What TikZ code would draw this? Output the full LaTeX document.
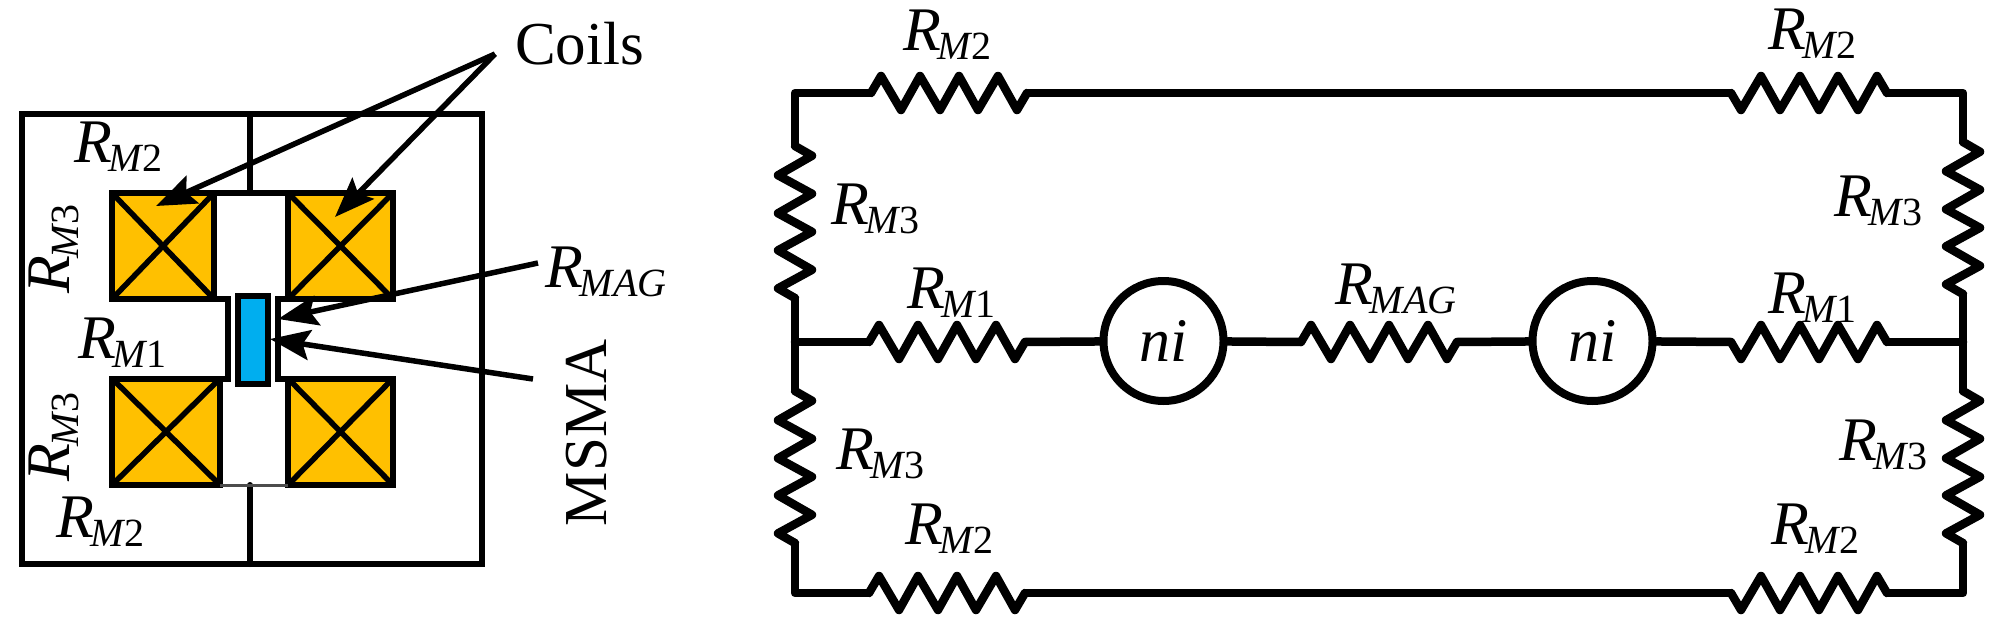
\documentclass[tikz,border=0pt]{standalone}
\usepackage{fontspec}
\setmainfont{Liberation Serif}
\usetikzlibrary{arrows.meta}
\definecolor{coilgold}{HTML}{FFC000}
\definecolor{msmablue}{HTML}{00AEEF}
\newcommand\Rs[2]{\fontsize{62}{64}\selectfont\itshape R\kern-3pt\raisebox{-9pt}{\fontsize{40}{42}\selectfont\itshape #1\upshape #2}}
\tikzset{
  wire/.style={line width=8.5pt,line cap=round,line join=round},
  frameline/.style={line width=6pt,line cap=round,line join=miter},
  coil/.style={fill=coilgold,draw=black,line width=6pt,line join=miter},
  crossline/.style={line width=5.5pt},
  lead/.style={line width=5.5pt,-{Stealth[length=40pt,width=30pt,inset=7pt]}},
  lab/.style={inner sep=0pt,outer sep=0pt,anchor=base west},
  plain/.style={inner sep=0pt,outer sep=0pt,anchor=base west,font=\fontsize{61}{62}\selectfont},
  source/.style={circle,draw=black,line width=8pt,minimum size=120pt,inner sep=0pt,font=\fontsize{62}{64}\selectfont\itshape},
  pics/zig/.style={code={
    \draw[wire] (0,0)--(10,-17)--(30,17)--(49,-17)--(69,17)--(88,-17)--(107,17)--(127,-17)--(146,17)--(156,0);
  }}
}
\begin{document}
\begin{tikzpicture}[x=1pt,y=-1pt]
\useasboundingbox (0,0) rectangle (2000,626);
% --- left: cut-away ---
\draw[frameline] (21.5,114) rectangle (482,564);
\draw[frameline] (250,114) -- (250,193);
\draw[frameline] (250,485) -- (250,564);
\draw[coil] (112,193) rectangle (214,299);
\draw[coil] (288,193) rectangle (393,299);
\draw[coil] (112,378.5) rectangle (220,485);
\draw[coil] (288,378.5) rectangle (393,485);
\draw[crossline] (112,193) -- (214,299) (112,299) -- (214,193);
\draw[crossline] (288,193) -- (393,299) (288,299) -- (393,193);
\draw[crossline] (112,378.5) -- (220,485) (112,485) -- (220,378.5);
\draw[crossline] (288,378.5) -- (393,485) (288,485) -- (393,378.5);
\draw[frameline] (214,193) -- (288,193);
\draw[black!70,line width=3pt] (220,485) -- (288,485);
\draw[frameline,line cap=butt] (214,299) -- (228,299) -- (228,378.5) -- (220,378.5);
\draw[frameline,line cap=butt] (288,299) -- (278,299) -- (278,378.5) -- (288,378.5);
\draw[fill=msmablue,draw=black,line width=5.5pt] (238,296) rectangle (268,384);
\coordinate (apex) at (495,54);
\coordinate (coilA) at (156,206);
\coordinate (coilB) at (335,217);
\coordinate (magS) at (538,263);
\coordinate (magE) at (278,319);
\coordinate (msmaS) at (533,379);
\coordinate (msmaE) at (270,339);
\draw[lead] (apex) -- (coilA);
\draw[lead] (apex) -- (coilB);
\draw[lead] (magS) -- (magE);
\draw[lead] (msmaS) -- (msmaE);
\node[plain] (tcoils) at (515,64) {Coils};
\node[plain,rotate=90] (tmsma) at (606,526) {MSMA};
\node[lab] (l1) at (74,162) {\Rs{M}{2}};
\node[lab] (l2) at (78,358) {\Rs{M}{1}};
\node[lab] (l3) at (56,537) {\Rs{M}{2}};
\node[lab,rotate=90] (l4) at (69,293) {\Rs{M}{3}};
\node[lab,rotate=90] (l5) at (69,481) {\Rs{M}{3}};
\node[lab] (l6) at (545,287) {\Rs{MAG}{}};
% --- right: circuit ---
\coordinate (TL) at (795,93);
\coordinate (TR) at (1963,93);
\coordinate (ML) at (795,342);
\coordinate (MR) at (1963,342);
\coordinate (BL) at (795,593);
\coordinate (BR) at (1963,593);
\coordinate (a1) at (871,93);   \coordinate (a2) at (1027,93);
\coordinate (b1) at (1731,93);  \coordinate (b2) at (1887,93);
\coordinate (c1) at (869,342);  \coordinate (c2) at (1025,342);
\coordinate (d1) at (1301,342); \coordinate (d2) at (1457,342);
\coordinate (e1) at (1731,342); \coordinate (e2) at (1887,342);
\coordinate (f1) at (869,593);  \coordinate (f2) at (1025,593);
\coordinate (g1) at (1731,593); \coordinate (g2) at (1887,593);
\coordinate (h1) at (795,146);  \coordinate (h2) at (795,298);
\coordinate (i1) at (795,391);  \coordinate (i2) at (795,543);
\coordinate (j1) at (1963,142); \coordinate (j2) at (1963,294);
\coordinate (k1) at (1963,391); \coordinate (k2) at (1963,543);
\node[source] (s1) at (1163.5,341) {ni};
\node[source] (s2) at (1592.5,341) {ni};
\pic at (a1) {zig};
\pic[yscale=-1] at (b1) {zig};
\pic at (c1) {zig};
\pic at (d1) {zig};
\pic[yscale=-1] at (e1) {zig};
\pic at (f1) {zig};
\pic[yscale=-1] at (g1) {zig};
\pic[rotate=-90,xscale=.975] at (h1) {zig};
\pic[rotate=-90,xscale=.975] at (i1) {zig};
\pic[rotate=-90,xscale=.975] at (j1) {zig};
\pic[rotate=-90,xscale=.975] at (k1) {zig};
\draw[wire] (a1) -- (TL) -- (h1);
\draw[wire] (h2) -- (i1);
\draw[wire] (i2) -- (BL) -- (f1);
\draw[wire] (a2) -- (b1);
\draw[wire] (f2) -- (g1);
\draw[wire] (b2) -- (TR) -- (j1);
\draw[wire] (j2) -- (k1);
\draw[wire] (k2) -- (BR) -- (g2);
\draw[wire] (ML) -- (c1);
\draw[wire] (c2) -- (s1);
\draw[wire] (s1) -- (d1);
\draw[wire] (d2) -- (s2);
\draw[wire] (s2) -- (e1);
\draw[wire] (e2) -- (MR);
\node[lab] (m1) at (903,51) {\Rs{M}{2}};
\node[lab] (m2) at (831,224) {\Rs{M}{3}};
\node[lab] (m3) at (907,308) {\Rs{M}{1}};
\node[lab] (m4) at (1335,304) {\Rs{MAG}{}};
\node[lab] (m5) at (836,469) {\Rs{M}{3}};
\node[lab] (m6) at (905,544) {\Rs{M}{2}};
\node[lab] (m7) at (1768,50) {\Rs{M}{2}};
\node[lab] (m8) at (1834,216) {\Rs{M}{3}};
\node[lab] (m9) at (1768,313) {\Rs{M}{1}};
\node[lab] (m10) at (1839,460) {\Rs{M}{3}};
\node[lab] (m11) at (1771,544) {\Rs{M}{2}};
\end{tikzpicture}
\end{document}
